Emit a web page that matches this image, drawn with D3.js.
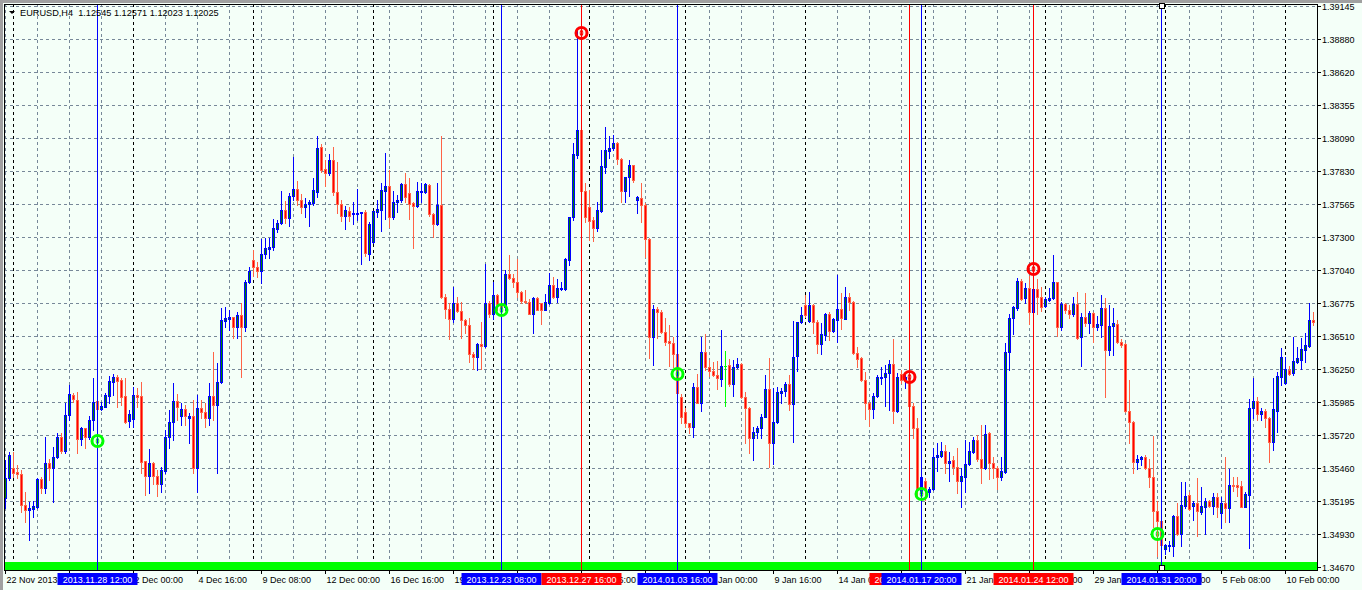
<!DOCTYPE html>
<html><head><meta charset="utf-8">
<script src="https://cdn.jsdelivr.net/npm/d3@7"></script>
<style>
html,body{margin:0;padding:0;background:#f4fff8;overflow:hidden;}
svg{display:block;font-family:"Liberation Sans",Arial,sans-serif;}
</style></head><body>
<svg id="c" width="1362" height="590"></svg>
<script>
const chartTitle = "EURUSD,H4  1.12545 1.12571 1.12023 1.12025";

const open = [1.35217,1.35376,1.35456,1.35429,1.35411,1.35163,1.35124,1.35129,1.35150,1.35368,1.35304,1.35501,1.35456,1.35549,1.35709,1.35597,1.35882,1.36041,1.36001,1.35695,1.35775,1.35709,1.35842,1.35993,1.35930,1.35948,1.36036,1.36148,1.36182,1.36161,1.36033,1.35836,1.35850,1.36041,1.36033,1.35515,1.35398,1.35501,1.35398,1.35336,1.35437,1.35703,1.35823,1.35993,1.35874,1.35927,1.35860,1.35874,1.35456,1.35935,1.35908,1.35860,1.36033,1.35961,1.36142,1.36634,1.36648,1.36661,1.36587,1.36680,1.36587,1.36940,1.37119,1.37065,1.37033,1.37164,1.37204,1.37220,1.37369,1.37411,1.37518,1.37451,1.37629,1.37683,1.37597,1.37539,1.37565,1.37576,1.37664,1.38018,1.37842,1.37809,1.37916,1.37663,1.37562,1.37472,1.37511,1.37482,1.37485,1.37490,1.37498,1.37166,1.37264,1.37503,1.37517,1.37671,1.37708,1.37458,1.37583,1.37597,1.37724,1.37650,1.37570,1.37549,1.37658,1.37663,1.37716,1.37482,1.37405,1.37557,1.36825,1.36732,1.36652,1.36772,1.36713,1.36639,1.36599,1.36368,1.36346,1.36447,1.36432,1.36772,1.36692,1.36838,1.36767,1.36745,1.37011,1.36979,1.36940,1.36865,1.36793,1.36785,1.36692,1.36812,1.36772,1.36724,1.36777,1.36918,1.36825,1.36889,1.36889,1.37118,1.37458,1.37956,1.38155,1.37671,1.37543,1.37437,1.37378,1.37511,1.37863,1.37990,1.38009,1.38054,1.37921,1.37671,1.37777,1.37876,1.37597,1.37615,1.37557,1.37283,1.36501,1.36732,1.36707,1.36547,1.36473,1.36454,1.36369,1.36023,1.35903,1.35816,1.35784,1.36103,1.35981,1.36382,1.36262,1.36236,1.36201,1.36167,1.36276,1.36281,1.36129,1.36262,1.36289,1.36023,1.35935,1.35696,1.35744,1.35776,1.35869,1.36087,1.35656,1.35824,1.36060,1.36076,1.36129,1.35970,1.36356,1.36622,1.36760,1.36632,1.36760,1.36627,1.36449,1.36520,1.36688,1.36555,1.36640,1.36725,1.36648,1.36821,1.36786,1.36374,1.36334,1.36161,1.35981,1.35930,1.36034,1.36175,1.36183,1.36215,1.36289,1.35917,1.36209,1.36169,1.36167,1.35957,1.35776,1.35257,1.35358,1.35265,1.35289,1.35544,1.35558,1.35595,1.35496,1.35523,1.35464,1.35358,1.35390,1.35491,1.35589,1.35683,1.35528,1.35456,1.35741,1.35497,1.35457,1.35390,1.35430,1.36382,1.36654,1.36739,1.36952,1.36813,1.36893,1.36707,1.36885,1.36821,1.36755,1.36800,1.36813,1.36941,1.36582,1.36768,1.36720,1.36686,1.36768,1.36502,1.36662,1.36619,1.36694,1.36582,1.36600,1.36733,1.36401,1.36593,1.36608,1.36467,1.36446,1.35917,1.35829,1.35510,1.35529,1.35544,1.35457,1.35390,1.35119,1.35039,1.34810,1.34840,1.34840,1.35076,1.34933,1.35156,1.35244,1.35156,1.35177,1.35111,1.35151,1.35199,1.35156,1.35231,1.35103,1.35177,1.35137,1.35324,1.35324,1.35316,1.35151,1.35244,1.35935,1.35997,1.35888,1.35917,1.35861,1.35669,1.35917,1.36188,1.36135,1.36241,1.36215,1.36308,1.36321,1.36401,1.36436,1.36640];
const high = [1.35523,1.35589,1.35589,1.35483,1.35443,1.35270,1.35190,1.35198,1.35376,1.35390,1.35709,1.35528,1.35629,1.35735,1.35735,1.35975,1.36121,1.36055,1.36068,1.35789,1.35781,1.35874,1.36174,1.36001,1.35988,1.36055,1.36193,1.36209,1.36201,1.36174,1.36174,1.35922,1.36108,1.36094,1.36142,1.35515,1.35608,1.35509,1.35443,1.35464,1.35762,1.35922,1.36134,1.36047,1.35975,1.35961,1.35895,1.36001,1.36041,1.36001,1.35975,1.36134,1.36387,1.36294,1.36733,1.36746,1.36720,1.36666,1.36706,1.36773,1.36959,1.37060,1.37198,1.37105,1.37284,1.37291,1.37291,1.37443,1.37438,1.37669,1.37589,1.37656,1.37943,1.37752,1.37645,1.37616,1.37597,1.37770,1.38108,1.38044,1.37917,1.37964,1.38022,1.37902,1.37597,1.37551,1.37538,1.37583,1.37682,1.37503,1.37517,1.37424,1.37511,1.37597,1.37735,1.37974,1.37836,1.37671,1.37636,1.37735,1.37809,1.37769,1.37583,1.37743,1.37730,1.37730,1.37724,1.37496,1.37730,1.38107,1.36846,1.36772,1.36905,1.36825,1.36785,1.36652,1.36658,1.36386,1.36453,1.36626,1.37086,1.36791,1.36945,1.36846,1.36777,1.37038,1.37158,1.37011,1.37126,1.36873,1.36878,1.36804,1.36820,1.36825,1.36777,1.36846,1.37017,1.36985,1.36971,1.36945,1.37131,1.37464,1.38054,1.38953,1.38182,1.37730,1.37676,1.37464,1.37583,1.37996,1.38176,1.38107,1.38115,1.38062,1.37929,1.37783,1.37916,1.37876,1.37629,1.37730,1.37575,1.37291,1.36759,1.36745,1.36720,1.36653,1.36600,1.36502,1.36374,1.36050,1.35935,1.35821,1.36140,1.36209,1.36507,1.36528,1.36321,1.36308,1.36313,1.36560,1.36393,1.36329,1.36321,1.36334,1.36294,1.36068,1.35949,1.35789,1.35794,1.35890,1.36201,1.36334,1.36095,1.36103,1.36100,1.36148,1.36201,1.36635,1.36627,1.36741,1.36840,1.36861,1.36768,1.36640,1.36614,1.36693,1.36707,1.36653,1.36999,1.36853,1.36901,1.36853,1.36794,1.36422,1.36342,1.36228,1.35988,1.36060,1.36201,1.36262,1.36281,1.36321,1.36489,1.36220,1.36241,1.36201,1.36241,1.35975,1.35855,1.35417,1.35377,1.35310,1.35616,1.35661,1.35669,1.35643,1.35589,1.35555,1.35616,1.35456,1.35683,1.35669,1.35709,1.35722,1.35802,1.35802,1.35749,1.35550,1.35475,1.35550,1.36460,1.36686,1.36752,1.36973,1.36965,1.36933,1.36992,1.36946,1.36965,1.36901,1.36827,1.36893,1.37159,1.36946,1.36787,1.36779,1.36760,1.36827,1.36866,1.36694,1.36859,1.36715,1.36707,1.36672,1.36840,1.36813,1.36760,1.36733,1.36640,1.36486,1.36454,1.36162,1.35837,1.35563,1.35555,1.35563,1.35529,1.35715,1.35199,1.35058,1.34853,1.34879,1.35084,1.35177,1.35350,1.35350,1.35270,1.35199,1.35377,1.35310,1.35217,1.35204,1.35257,1.35257,1.35225,1.35544,1.35449,1.35385,1.35385,1.35358,1.35270,1.36007,1.36180,1.36023,1.35935,1.35928,1.35869,1.36175,1.36228,1.36414,1.36348,1.36273,1.36502,1.36422,1.36494,1.36539,1.36773,1.36707];
const low = [1.35137,1.35363,1.35390,1.35376,1.35110,1.35030,1.34884,1.35070,1.35137,1.35257,1.35257,1.35363,1.35190,1.35536,1.35576,1.35576,1.35842,1.35988,1.35576,1.35642,1.35621,1.35695,1.35762,1.35922,1.35922,1.35943,1.35980,1.36041,1.35943,1.35961,1.35815,1.35789,1.35789,1.35948,1.35416,1.35243,1.35262,1.35336,1.35235,1.35270,1.35422,1.35616,1.35682,1.35842,1.35802,1.35802,1.35656,1.35416,1.35270,1.35855,1.35783,1.35802,1.35842,1.35422,1.36134,1.36587,1.36560,1.36493,1.36493,1.36182,1.36555,1.36932,1.36991,1.36986,1.36932,1.37132,1.37132,1.37198,1.37345,1.37406,1.37411,1.37390,1.37597,1.37557,1.37496,1.37459,1.37390,1.37557,1.37624,1.37823,1.37709,1.37796,1.37636,1.37490,1.37432,1.37363,1.37432,1.37410,1.37437,1.37083,1.37150,1.37118,1.37256,1.37464,1.37352,1.37442,1.37384,1.37442,1.37503,1.37583,1.37583,1.37442,1.37216,1.37543,1.37583,1.37655,1.37469,1.37304,1.37397,1.36817,1.36658,1.36485,1.36626,1.36705,1.36493,1.36533,1.36306,1.36253,1.36245,1.36253,1.36421,1.36666,1.36652,1.36724,1.36705,1.36719,1.36964,1.36905,1.36820,1.36777,1.36777,1.36687,1.36538,1.36719,1.36612,1.36719,1.36767,1.36812,1.36785,1.36878,1.36878,1.37078,1.37437,1.37929,1.37304,1.37424,1.37277,1.37272,1.37352,1.37503,1.37809,1.37929,1.37996,1.37884,1.37583,1.37583,1.37629,1.37743,1.37490,1.37424,1.37139,1.36341,1.36285,1.36493,1.36534,1.36441,1.36273,1.36268,1.36023,1.35816,1.35789,1.35741,1.35704,1.35975,1.35917,1.36241,1.36196,1.36193,1.36087,1.36114,1.35957,1.36114,1.36036,1.36254,1.36015,1.35661,1.35576,1.35523,1.35696,1.35696,1.35863,1.35470,1.35491,1.35816,1.35981,1.36034,1.35922,1.35669,1.36233,1.36619,1.36667,1.36627,1.36534,1.36374,1.36369,1.36481,1.36481,1.36547,1.36467,1.36566,1.36646,1.36720,1.36369,1.36262,1.36156,1.35848,1.35794,1.35855,1.36028,1.36129,1.35957,1.35922,1.35821,1.35909,1.36135,1.36095,1.35935,1.35696,1.35244,1.35204,1.35204,1.35230,1.35284,1.35438,1.35550,1.35417,1.35358,1.35411,1.35257,1.35151,1.35270,1.35483,1.35576,1.35518,1.35337,1.35449,1.35369,1.35377,1.35292,1.35364,1.35422,1.36241,1.36526,1.36720,1.36800,1.36779,1.36608,1.36654,1.36688,1.36715,1.36747,1.36795,1.36805,1.36513,1.36561,1.36694,1.36654,1.36672,1.36486,1.36273,1.36593,1.36534,1.36467,1.36561,1.36502,1.36023,1.36361,1.36361,1.36460,1.36422,1.35909,1.35662,1.35422,1.35449,1.35483,1.35449,1.35310,1.34991,1.34757,1.34792,1.34773,1.34800,1.34757,1.34925,1.34837,1.35137,1.35124,1.35044,1.34919,1.35092,1.34933,1.35151,1.35092,1.35071,1.34978,1.35031,1.35031,1.35278,1.35236,1.35145,1.35145,1.34818,1.35856,1.35842,1.35842,1.35784,1.35510,1.35603,1.35749,1.36122,1.36130,1.36201,1.36201,1.36295,1.36247,1.36308,1.36428,1.36600];
const close = [1.35376,1.35562,1.35422,1.35411,1.35163,1.35124,1.35137,1.35156,1.35368,1.35304,1.35501,1.35456,1.35549,1.35709,1.35597,1.35882,1.36047,1.36007,1.35695,1.35775,1.35703,1.35842,1.35988,1.35930,1.35954,1.36041,1.36156,1.36188,1.36156,1.36028,1.35828,1.35890,1.36041,1.36028,1.35509,1.35398,1.35501,1.35398,1.35336,1.35443,1.35703,1.35828,1.35993,1.35943,1.35927,1.35874,1.35874,1.35456,1.35935,1.35908,1.35860,1.36033,1.35961,1.36142,1.36640,1.36653,1.36661,1.36587,1.36680,1.36587,1.36940,1.37031,1.37065,1.37033,1.37164,1.37212,1.37225,1.37371,1.37411,1.37518,1.37451,1.37629,1.37683,1.37597,1.37539,1.37565,1.37581,1.37677,1.38010,1.37837,1.37816,1.37916,1.37663,1.37562,1.37472,1.37517,1.37472,1.37496,1.37496,1.37501,1.37171,1.37405,1.37509,1.37525,1.37676,1.37708,1.37458,1.37583,1.37597,1.37724,1.37623,1.37562,1.37549,1.37668,1.37668,1.37722,1.37482,1.37410,1.37557,1.36825,1.36732,1.36652,1.36772,1.36713,1.36639,1.36599,1.36368,1.36346,1.36447,1.36432,1.36772,1.36692,1.36838,1.36767,1.36740,1.37011,1.36979,1.36940,1.36865,1.36793,1.36785,1.36692,1.36812,1.36724,1.36724,1.36785,1.36918,1.36825,1.36892,1.36897,1.37126,1.37458,1.37961,1.38155,1.37671,1.37464,1.37432,1.37378,1.37517,1.37868,1.37996,1.38014,1.38054,1.37921,1.37671,1.37777,1.37876,1.37756,1.37618,1.37557,1.37283,1.36501,1.36732,1.36705,1.36547,1.36467,1.36454,1.36369,1.36055,1.35863,1.35816,1.35784,1.36103,1.35981,1.36382,1.36262,1.36236,1.36201,1.36175,1.36276,1.36276,1.36129,1.36262,1.36289,1.36023,1.35935,1.35696,1.35744,1.35776,1.35863,1.36087,1.35661,1.35824,1.36063,1.36074,1.36129,1.35970,1.36348,1.36622,1.36680,1.36680,1.36760,1.36627,1.36449,1.36528,1.36688,1.36555,1.36646,1.36725,1.36653,1.36821,1.36786,1.36374,1.36329,1.36161,1.35975,1.35930,1.36034,1.36183,1.36188,1.36215,1.36289,1.35917,1.36188,1.36161,1.36183,1.35957,1.35776,1.35284,1.35390,1.35284,1.35289,1.35544,1.35563,1.35595,1.35502,1.35515,1.35464,1.35358,1.35395,1.35491,1.35595,1.35683,1.35528,1.35456,1.35730,1.35497,1.35457,1.35390,1.35435,1.36382,1.36654,1.36741,1.36952,1.36805,1.36893,1.36707,1.36885,1.36821,1.36741,1.36805,1.36813,1.36941,1.36582,1.36768,1.36720,1.36686,1.36768,1.36494,1.36662,1.36619,1.36694,1.36582,1.36608,1.36733,1.36401,1.36593,1.36614,1.36467,1.36441,1.35917,1.35829,1.35510,1.35529,1.35544,1.35457,1.35390,1.35119,1.35039,1.34845,1.34845,1.34845,1.35076,1.34933,1.35164,1.35236,1.35130,1.35177,1.35119,1.35156,1.35199,1.35156,1.35231,1.35151,1.35177,1.35137,1.35324,1.35316,1.35310,1.35151,1.35249,1.35935,1.35997,1.35888,1.35917,1.35861,1.35669,1.35928,1.36194,1.36342,1.36247,1.36209,1.36313,1.36334,1.36409,1.36441,1.36640,1.36627];

const priceTicks = [1.39145,1.38880,1.38620,1.38355,1.38090,1.37830,1.37565,1.37300,1.37040,1.36775,1.36510,1.36250,1.35985,1.35720,1.35460,1.35195,1.34930,1.34670];
const timeTickBars = [0,16,32,48,64,80,96,112,128,144,160,176,192,208,224,240,256,272,288,304,320];
const timeTickLabels = ["22 Nov 2013","27 Nov 08:00","2 Dec 00:00","4 Dec 16:00","9 Dec 08:00","12 Dec 00:00","16 Dec 16:00","19 Dec 08:00","24 Dec 00:00","27 Dec 16:00","2 Jan 08:00","7 Jan 00:00","9 Jan 16:00","14 Jan 08:00","17 Jan 00:00","21 Jan 16:00","24 Jan 08:00","29 Jan 00:00","31 Jan 16:00","5 Feb 08:00","10 Feb 00:00"];
const weekStartBars = [2,32,62,92,122,146,170,200,230,260,290,320];

const signalBars = [23,124,144,168,226,229,257,289];
const signalTypes = ["buy","buy","sell","buy","sell","buy","sell","buy"];
const signalLabels = ["2013.11.28 12:00","2013.12.23 08:00","2013.12.27 16:00","2014.01.03 16:00","2014.01.17 08:00","2014.01.17 20:00","2014.01.24 12:00","2014.01.31 20:00"];
const markerBars = [23,124,144,168,226,229,257,288];
const markerPrices = [1.35675,1.36720,1.38930,1.36210,1.36186,1.35252,1.37047,1.34933];
const markerTypes = ["buy","buy","sell","buy","sell","buy","sell","buy"];

const svg = d3.select("#c");
const L = 4, T = 4, R = 1317, B = 570;
const x = d3.scaleLinear().domain([0, open.length - 1]).range([5, 5 + 4 * (open.length - 1)]);
const y = d3.scaleLinear().domain([1.34670, 1.39145]).range([567, 6]);
const px = i => Math.round(x(i));
const py = v => Math.round(y(v));

svg.append("rect").attr("x",0).attr("y",0).attr("width",1362).attr("height",590).attr("fill","#f4fff8");
svg.append("rect").attr("x",0).attr("y",0).attr("width",1362).attr("height",3).attr("fill","#a0a0a0");
svg.append("rect").attr("x",0).attr("y",0).attr("width",3).attr("height",590).attr("fill","#a0a0a0");

const gGrid = svg.append("g");
gGrid.selectAll("line.h").data(priceTicks).join("line")
  .attr("x1", L).attr("x2", R)
  .attr("y1", d => py(d) + 0.5).attr("y2", d => py(d) + 0.5)
  .attr("stroke", "#778899").attr("stroke-width", 1).attr("stroke-dasharray", "3,3");
const vgrid = d3.range(0, open.length, 8);
gGrid.selectAll("line.v").data(vgrid).join("line")
  .attr("x1", d => px(d) + 0.5).attr("x2", d => px(d) + 0.5)
  .attr("y1", T).attr("y2", B)
  .attr("stroke", "#778899").attr("stroke-width", 1).attr("stroke-dasharray", "3,3");
gGrid.selectAll("line.w").data(weekStartBars).join("line")
  .attr("x1", d => px(d) + 0.5).attr("x2", d => px(d) + 0.5)
  .attr("y1", T).attr("y2", B)
  .attr("stroke", "#000").attr("stroke-width", 1).attr("stroke-dasharray", "3,3");

svg.append("rect").attr("x", 5).attr("y", 562).attr("width", R - 5).attr("height", 8).attr("fill", "#00ff00");

const gC = svg.append("g").attr("shape-rendering", "crispEdges");
const bullEdge = "#0000ff", bullFill = "#008000", bearEdge = "#ff6347", bearFill = "#ff0000", dojiCol = "#00ff00";
open.forEach((o, i) => {
  const c = close[i], h = high[i], l = low[i];
  const cx = px(i);
  const yo = py(o), yc = py(c), yh = py(h), yl = py(l);
  const bull = c > o, bear = c < o;
  const edge = bull ? bullEdge : (bear ? bearEdge : dojiCol);
  const fill = bull ? bullFill : (bear ? bearFill : dojiCol);
  gC.append("rect").attr("x", cx).attr("y", yh).attr("width", 1).attr("height", Math.max(1, yl - yh + 1)).attr("fill", edge);
  const top = Math.min(yo, yc), bot = Math.max(yo, yc);
  gC.append("rect").attr("x", cx - 1).attr("y", top).attr("width", 3).attr("height", bot - top + 1).attr("fill", edge);
  if (bot - top >= 2) {
    gC.append("rect").attr("x", cx).attr("y", top + 1).attr("width", 1).attr("height", bot - top - 1).attr("fill", fill);
  }
});

const sigCol = t => t === "buy" ? "#0000ff" : "#ff0000";
svg.append("g").selectAll("line").data(signalBars).join("line")
  .attr("x1", d => px(d) + 0.5).attr("x2", d => px(d) + 0.5)
  .attr("y1", T).attr("y2", B)
  .attr("stroke", (d, k) => sigCol(signalTypes[k])).attr("stroke-width", 1);

const gM = svg.append("g");
markerBars.forEach((b, k) => {
  const cx = px(b) + 0.5, cy = y(markerPrices[k]);
  const col = markerTypes[k] === "buy" ? "#00ff00" : "#ff0000";
  gM.append("circle").attr("cx", cx).attr("cy", cy).attr("r", 5.5).attr("fill", "none").attr("stroke", col).attr("stroke-width", 3);
  gM.append("ellipse").attr("cx", cx).attr("cy", cy).attr("rx", 1.3).attr("ry", 3).attr("fill", "none").attr("stroke", col).attr("stroke-width", 1);
});

svg.append("rect").attr("x", L + 0.5).attr("y", T + 0.5).attr("width", R - L).attr("height", B - T)
  .attr("fill", "none").attr("stroke", "#000").attr("stroke-width", 1);

const gY = svg.append("g");
priceTicks.forEach(v => {
  const yy = py(v) + 0.5;
  gY.append("line").attr("x1", R).attr("x2", R + 4).attr("y1", yy).attr("y2", yy).attr("stroke", "#000");
  gY.append("text").attr("x", R + 5).attr("y", yy).attr("dy", "0.35em").attr("font-size", 9).attr("fill", "#000").text(v.toFixed(5));
});

// keep the characters of a text that stay (mostly) outside the boxes drawn over it
const gX = svg.append("g");
function keepVisible(sel, occluders) {
  const node = sel.node();
  const str = node.textContent;
  const n = node.getNumberOfChars();
  const runs = []; let cur = null;
  for (let j = 0; j < n; j++) {
    const s = node.getStartPositionOfChar(j).x, e = node.getEndPositionOfChar(j).x;
    const w = Math.max(0.01, e - s);
    let covered = 0;
    occluders.forEach(bx => { covered += Math.max(0, Math.min(e, bx.x1) - Math.max(s, bx.x0)); });
    const vis = (w - covered) / w >= 0.15;
    if (vis) {
      if (!cur) { if (str[j] === " ") continue; cur = { start: s, str: "" }; runs.push(cur); }
      cur.str += str[j];
    } else cur = null;
  }
  const attrs = { y: sel.attr("y"), size: sel.attr("font-size"), fill: sel.attr("fill") };
  sel.remove();
  runs.forEach(r => {
    const t = r.str.replace(/\s+$/, "");
    if (!t) return;
    gX.append("text").attr("x", r.start).attr("y", attrs.y).attr("font-size", attrs.size).attr("fill", attrs.fill).text(t);
  });
}
const boxes = signalBars.map((b, k) => ({ x0: px(b) + 0.5 - 40, x1: px(b) + 0.5 + 40, k }));

timeTickBars.forEach((b, k) => {
  const xx = px(b) + 0.5;
  gX.append("line").attr("x1", xx).attr("x2", xx).attr("y1", B).attr("y2", B + 4).attr("stroke", "#000");
  const t = gX.append("text").attr("x", xx + 1).attr("y", 583).attr("font-size", 9).attr("fill", "#000").text(timeTickLabels[k]);
  keepVisible(t, boxes);
});

signalBars.forEach((b, k) => {
  const cx = px(b) + 0.5;
  gX.append("rect").attr("x", cx - 40).attr("y", 573).attr("width", 80).attr("height", 12).attr("fill", sigCol(signalTypes[k]));
  const t = gX.append("text").attr("x", cx).attr("y", 583).attr("text-anchor", "middle").attr("font-size", 9).attr("fill", "#fff").text(signalLabels[k]);
  const later = boxes.filter(bx => bx.k > k && bx.x0 < cx + 40 && bx.x1 > cx - 40);
  if (later.length) keepVisible(t, later);
});

const hb = px(signalBars[signalBars.length - 1]);
[6, 568].forEach(yy => {
  svg.append("rect").attr("x", hb - 1.5).attr("y", yy - 2.5).attr("width", 5).attr("height", 5).attr("fill", "#fff").attr("stroke", "#000").attr("stroke-width", 1);
});

svg.append("path").attr("d", "M9,11 L15,11 L12,14 Z").attr("fill", "#000");
svg.append("text").attr("x", 20).attr("y", 16).attr("font-size", 9.2).attr("fill", "#000").style("white-space", "pre").text(chartTitle);
</script>
</body></html>
